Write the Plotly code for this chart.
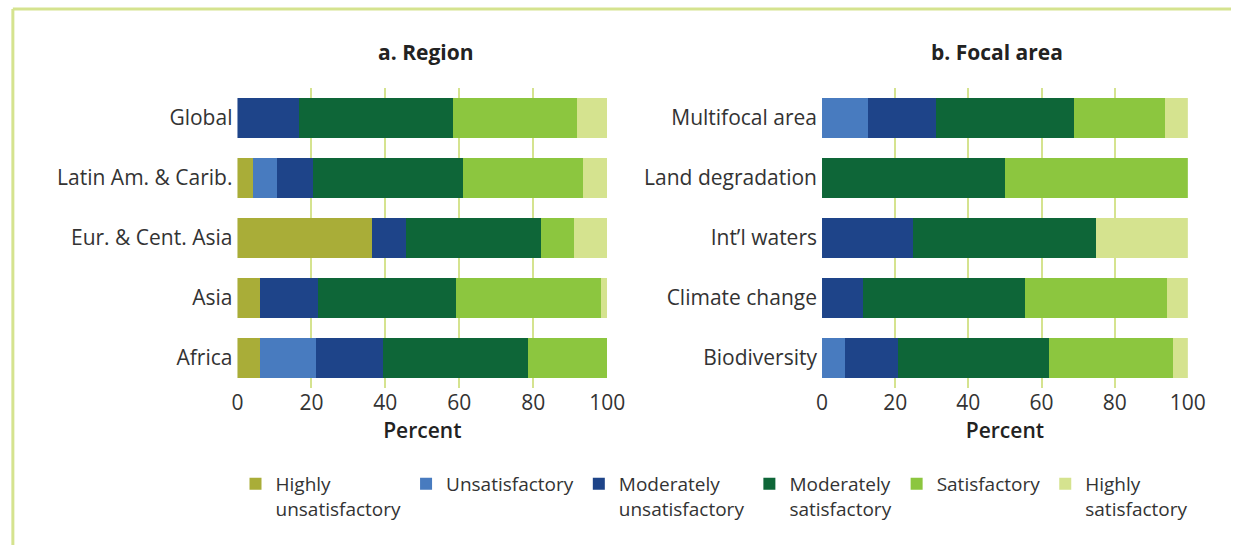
import plotly.graph_objects as go

# ---- data ----
regions = ["Global", "Latin Am. & Carib.", "Eur. & Cent. Asia", "Asia", "Africa"]
focal_areas = ["Multifocal area", "Land degradation", "Int\u2019l waters", "Climate change", "Biodiversity"]

rating_names = ["Highly<br>unsatisfactory", "Unsatisfactory", "Moderately<br>unsatisfactory",
                "Moderately<br>satisfactory", "Satisfactory", "Highly<br>satisfactory"]
rating_colors = ["#a9ad38", "#487bbf", "#1e4489", "#0e6638", "#8cc63f", "#d5e38f"]

# values per region (top to bottom order as listed)
region_hu = [0.0, 4.1, 36.4, 6.0, 6.2]
region_u = [0.0, 6.6, 0.0, 0.0, 15.1]
region_mu = [16.7, 9.6, 9.1, 15.9, 18.1]
region_ms = [41.5, 40.6, 36.6, 37.1, 39.2]
region_s = [33.7, 32.6, 9.0, 39.2, 21.4]
region_hs = [8.1, 6.5, 8.9, 1.8, 0.0]

focal_hu = [0.0, 0.0, 0.0, 0.0, 0.0]
focal_u = [12.5, 0.0, 0.0, 0.0, 6.2]
focal_mu = [18.75, 0.0, 25.0, 11.1, 14.6]
focal_ms = [37.5, 50.0, 50.0, 44.4, 41.2]
focal_s = [25.0, 50.0, 0.0, 38.9, 34.0]
focal_hs = [6.25, 0.0, 25.0, 5.6, 4.0]

x_ticks = [0, 20, 40, 60, 80, 100]

region_series = [region_hu, region_u, region_mu, region_ms, region_s, region_hs]
focal_series = [focal_hu, focal_u, focal_mu, focal_ms, focal_s, focal_hs]

W, H = 1249, 545
FONT = "Open Sans"
TXT = "#333333"
GRID = "#d5e38f"

fig = go.Figure()
for i, name in enumerate(rating_names):
    fig.add_trace(go.Bar(
        y=regions, x=region_series[i], orientation="h", name=name,
        marker=dict(color=rating_colors[i], line=dict(width=0)),
        legendgroup=str(i), showlegend=True, xaxis="x", yaxis="y",
    ))
for i, name in enumerate(rating_names):
    fig.add_trace(go.Bar(
        y=focal_areas, x=focal_series[i], orientation="h", name=name,
        marker=dict(color=rating_colors[i], line=dict(width=0)),
        legendgroup=str(i), showlegend=False, xaxis="x2", yaxis="y2",
    ))

def px_x(p):
    return p / W

def px_y(p):
    return 1 - p / H

ydom = [px_y(388), px_y(88)]

axis_common = dict(
    range=[0, 100], tickvals=x_ticks, showgrid=True, gridcolor=GRID, gridwidth=2,
    zeroline=False, showline=False, ticks="",
    tickfont=dict(family=FONT, size=21, color=TXT),
    title=dict(text="Percent", font=dict(family=FONT, size=21, color="#222222", weight=600), standoff=8),
    fixedrange=True,
)
yaxis_common = dict(
    autorange="reversed", showgrid=False, zeroline=False, showline=False, ticks="",
    tickfont=dict(family=FONT, size=21, color=TXT), ticklabelstandoff=4, fixedrange=True,
)

fig.update_layout(
    width=W, height=H,
    margin=dict(l=0, r=0, t=0, b=0),
    paper_bgcolor="white", plot_bgcolor="white",
    barmode="stack", bargap=1/3,
    font=dict(family=FONT, color=TXT),
    xaxis=dict(domain=[px_x(236), px_x(613)], anchor="y", **axis_common),
    yaxis=dict(domain=ydom, anchor="x", **yaxis_common),
    xaxis2=dict(domain=[px_x(832), px_x(1205)], anchor="y2", **axis_common),
    yaxis2=dict(domain=ydom, anchor="x2", **yaxis_common),
    legend=dict(
        orientation="h", x=px_x(234), xanchor="left", y=px_y(465), yanchor="top",
        font=dict(family=FONT, size=19, color=TXT), valign="top",
        itemwidth=30, traceorder="normal", tracegroupgap=0,
        bgcolor="rgba(0,0,0,0)",
    ),
    showlegend=True,
    annotations=[
        dict(text="<b>a. Region</b>", x=px_x(428), y=px_y(52), xref="paper", yref="paper",
             showarrow=False, font=dict(family=FONT, size=21, color="#222222"), xanchor="center", yanchor="middle"),
        dict(text="<b>b. Focal area</b>", x=px_x(1010), y=px_y(52), xref="paper", yref="paper",
             showarrow=False, font=dict(family=FONT, size=21, color="#222222"), xanchor="center", yanchor="middle"),
    ],
    shapes=[
        dict(type="line", xref="paper", yref="paper", x0=px_x(7), x1=1.0, y0=px_y(9), y1=px_y(9),
             line=dict(color=GRID, width=3)),
        dict(type="line", xref="paper", yref="paper", x0=px_x(7), x1=px_x(7), y0=px_y(9), y1=0.0,
             line=dict(color=GRID, width=3)),
    ],
)

fig.write_html(
    "out.html",
    config={"displayModeBar": False},
    post_script=(
        "document.body.style.margin='0px';"
        "document.body.style.overflow='hidden';"
        "document.documentElement.style.overflow='hidden';"
    ),
)
